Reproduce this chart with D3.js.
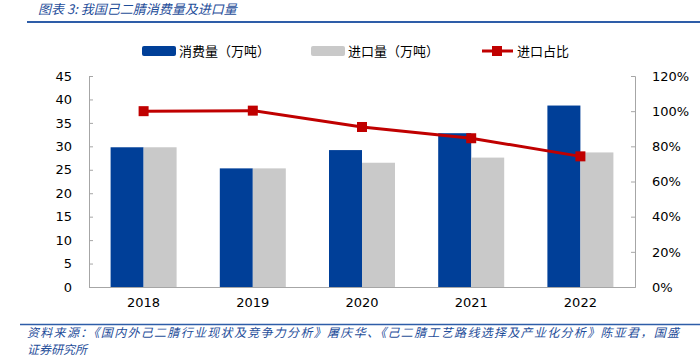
<!DOCTYPE html>
<html><head><meta charset="utf-8">
<script src="https://cdn.jsdelivr.net/npm/d3@7"></script>
<style>body{margin:0;background:#fff;}svg{display:block;}</style>
</head><body>
<svg id="c" width="700" height="356"></svg>
<script>
const years = ["2018","2019","2020","2021","2022"];
const consumption = [29.8, 25.3, 29.2, 32.8, 38.7];
const imports = [29.8, 25.3, 26.5, 27.6, 28.7];
const ratio = [1.00, 1.003, 0.91, 0.846, 0.743];
const leftTicks = [0,5,10,15,20,25,30,35,40,45];
const rightTicks = [0,0.2,0.4,0.6,0.8,1.0,1.2];
const title = "图表 3:  我国己二腈消费量及进口量";
const seriesNames = ["消费量（万吨）","进口量（万吨）","进口占比"];
const sourceLines = ["资料来源：《国内外己二腈行业现状及竞争力分析》屠庆华、《己二腈工艺路线选择及产业化分析》陈亚君，国盛","证券研究所"];

const svg = d3.select("#c");
const L = 89, R = 635, T = 76, B = 287;
const blue = "#003f98", gray = "#c9c9c9", red = "#c00000", axisC = "#a6a6a6";
const cjk = "'Noto Sans CJK SC', sans-serif";
const num = "'DejaVu Sans', sans-serif";

// header
svg.append("text").attr("x", 38).attr("y", 14).attr("fill", "#1f4e9a")
  .attr("font-family", cjk).attr("font-size", 13).attr("font-style", "italic").text(title);
svg.append("line").attr("x1", 27).attr("x2", 700).attr("y1", 22).attr("y2", 22)
  .attr("stroke", "#2e5da8").attr("stroke-width", 2);
svg.append("line").attr("x1", 20).attr("x2", 700).attr("y1", 324.5).attr("y2", 324.5)
  .attr("stroke", "#2e5da8").attr("stroke-width", 1.5);
sourceLines.forEach((s,i) => {
  const t = svg.append("text").attr("x", 27).attr("y", 337 + i*16.5)
    .attr("fill", "#1f4e9a").attr("font-family", cjk).attr("font-size", 12)
    .attr("font-style", "italic").text(s);
  if (i === 0) t.attr("textLength", 652).attr("lengthAdjust", "spacing");
});

const x0 = d3.scaleBand().domain(years).range([L, R]);
const sub = d3.scaleBand().domain([0,1]).range([0, 66]);
const y = d3.scaleLinear().domain([0,45]).range([B, T]);
const y2 = d3.scaleLinear().domain([0,1.2]).range([B, T]);

// axes
const gl = svg.append("g").attr("transform", `translate(${L},0)`)
  .call(d3.axisLeft(y).tickValues(leftTicks).tickSize(-4).tickPadding(17));
const gr = svg.append("g").attr("transform", `translate(${R},0)`)
  .call(d3.axisRight(y2).tickValues(rightTicks).tickSize(-4).tickPadding(17).tickFormat(d3.format(".0%")));
[gl, gr].forEach(g => {
  g.select(".domain").attr("stroke", axisC);
  g.selectAll(".tick line").attr("stroke", axisC);
  g.selectAll("text").attr("font-family", num).attr("font-size", 13).attr("fill", "#000");
});
const gb = svg.append("g").attr("transform", `translate(0,${B})`)
  .call(d3.axisBottom(x0).tickSize(0).tickPadding(11));
gb.select(".domain").attr("stroke", axisC);
gb.selectAll("text").attr("font-family", num).attr("font-size", 13).attr("fill", "#000");

// bars
const cx = d => x0(d) + x0.bandwidth()/2 - 33;
svg.append("g").selectAll("rect").data(years).join("rect")
  .attr("x", d => cx(d) + sub(0)).attr("width", sub.bandwidth())
  .attr("y", (d,i) => y(consumption[i])).attr("height", (d,i) => B - y(consumption[i]))
  .attr("fill", blue);
svg.append("g").selectAll("rect").data(years).join("rect")
  .attr("x", d => cx(d) + sub(1)).attr("width", sub.bandwidth())
  .attr("y", (d,i) => y(imports[i])).attr("height", (d,i) => B - y(imports[i]))
  .attr("fill", gray);

// line
const lx = d => x0(d) + x0.bandwidth()/2;
const line = d3.line().x((d,i) => lx(years[i])).y(d => y2(d));
svg.append("path").datum(ratio).attr("d", line).attr("fill", "none")
  .attr("stroke", red).attr("stroke-width", 3);
svg.append("g").selectAll("rect").data(ratio).join("rect")
  .attr("x", (d,i) => lx(years[i]) - 5).attr("y", d => y2(d) - 5)
  .attr("width", 10).attr("height", 10).attr("fill", red);

// legend
const lg = svg.append("g").attr("font-family", cjk).attr("font-size", 13).attr("fill", "#000");
lg.append("rect").attr("x", 142).attr("y", 46).attr("width", 34).attr("height", 10).attr("rx", 2).attr("fill", blue);
lg.append("text").attr("x", 179).attr("y", 56).text(seriesNames[0]);
lg.append("rect").attr("x", 311).attr("y", 46).attr("width", 34).attr("height", 10).attr("rx", 2).attr("fill", gray);
lg.append("text").attr("x", 348).attr("y", 56).text(seriesNames[1]);
lg.append("line").attr("x1", 482).attr("x2", 513).attr("y1", 51).attr("y2", 51).attr("stroke", red).attr("stroke-width", 3);
lg.append("rect").attr("x", 492).attr("y", 46).attr("width", 10).attr("height", 10).attr("fill", red);
lg.append("text").attr("x", 517).attr("y", 56).text(seriesNames[2]);
</script>
</body></html>
